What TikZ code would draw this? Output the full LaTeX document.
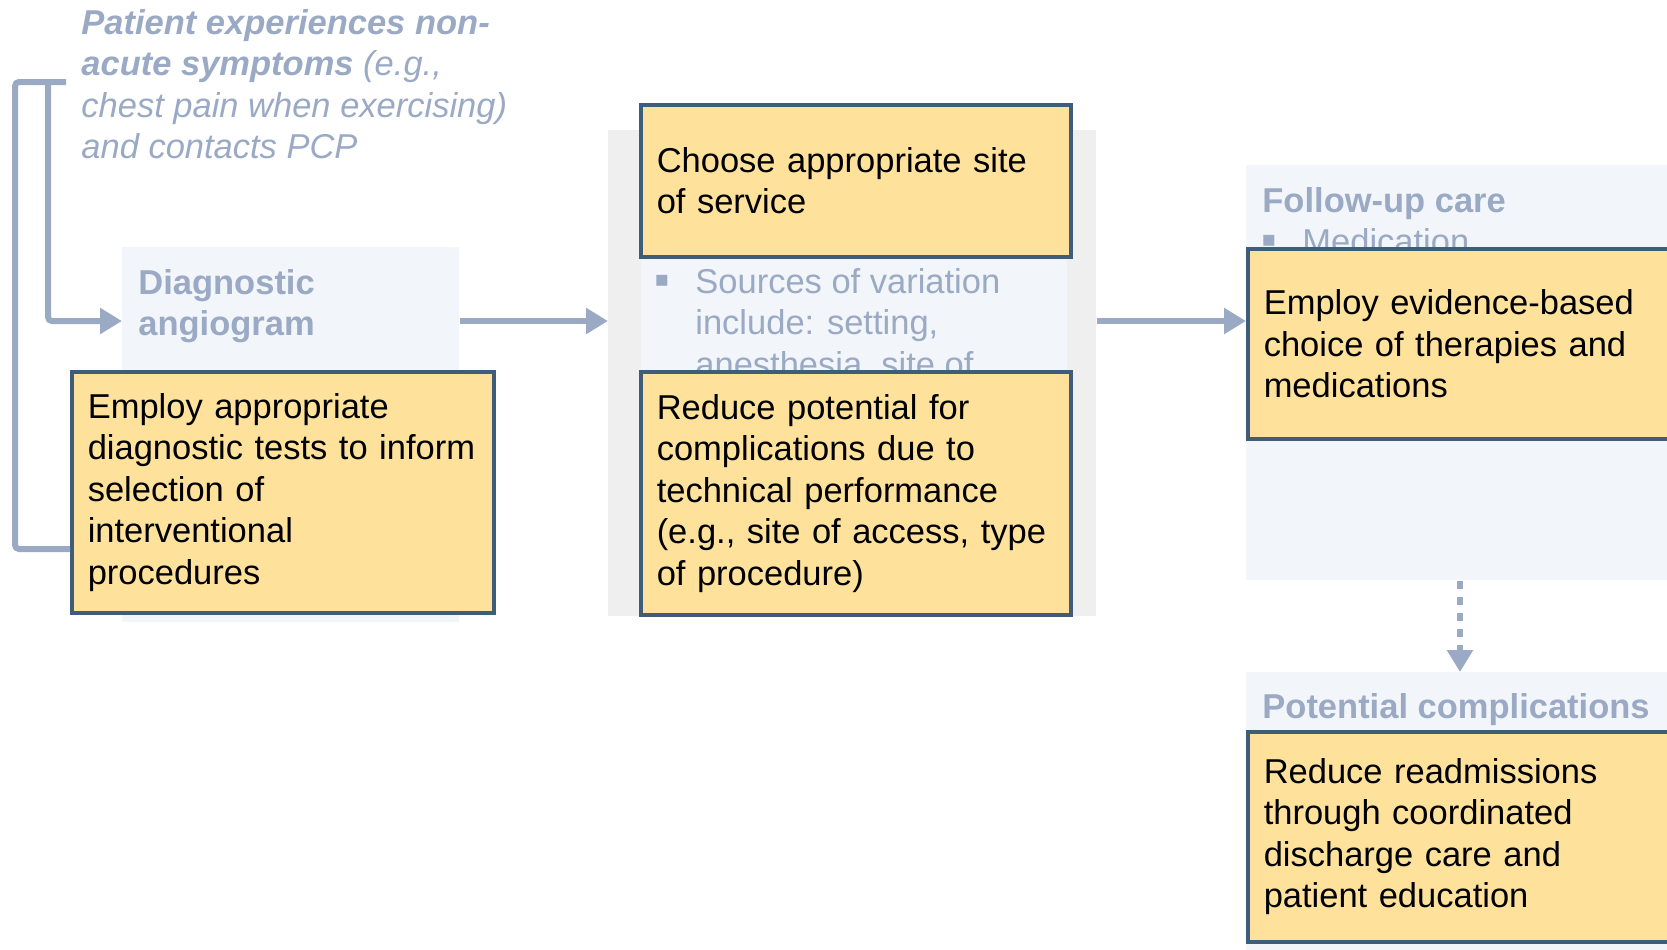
\documentclass[tikz,border=0pt]{standalone}
\usepackage{fontspec}
\setmainfont{Liberation Sans}
\usepackage{tikz}
\usetikzlibrary{positioning}
\usetikzlibrary{arrows.meta}
\definecolor{pathblue}{HTML}{9AA9C4}
\definecolor{panelblue}{HTML}{F2F5F9}
\definecolor{panelgrey}{HTML}{EFEFEF}
\definecolor{leverfill}{HTML}{FEE29B}
\definecolor{leverline}{HTML}{3F5C7A}
\newcommand{\pathfont}{\fontsize{17.25pt}{20.75pt}\selectfont}

\begin{document}
\begin{tikzpicture}[x=0.5pt,y=-0.5pt,
  panel/.style={fill=panelblue, anchor=north west, inner sep=0pt},
  faint/.style={text=pathblue, font=\pathfont, anchor=north west, inner sep=0pt, align=left},
  bulletmark/.style={text=pathblue, font=\fontsize{22pt}{24pt}\selectfont, inner sep=0pt},
  lever/.style={draw=leverline, line width=1.75pt, fill=leverfill, font=\pathfont, anchor=north west, inner xsep=8pt, inner ysep=0pt, align=left},
  flowline/.style={draw=pathblue, line width=3pt, -{Triangle[length=11pt,width=12.5pt]}}]
  \useasboundingbox (0,0) rectangle (1667,949);

  % background panels of the pathway steps
  \node[panel, minimum width=168.5pt, minimum height=187.5pt] (diagbg) at (122,247) {};
  \node[panel, fill=panelgrey, minimum width=244pt, minimum height=243pt] (midbg) at (608,130) {};
  \node[panel, minimum width=213pt, minimum height=250pt] (midpanel) at (641,110) {};
  \node[panel, minimum width=227pt, minimum height=207.5pt] (followbg) at (1246,165) {};
  \node[panel, minimum width=227pt, minimum height=144pt] (complbg) at (1246,672) {};

  % faint step texts
  \node[faint, font=\pathfont\itshape] (symptom) at (81,5)
    {\strut\textbf{Patient experiences non-}\\\textbf{acute symptoms} (e.g.,\\chest pain when exercising)\\and contacts PCP};
  \node[faint, font=\pathfont\bfseries] (diagtitle) at (138,265) {\strut Diagnostic\\angiogram};
  \node[bulletmark] (srcbullet) at (662,285) {▪};
  \node[faint] (sources) at (695,264) {\strut Sources of variation\\include: setting,\\anesthesia, site of};
  \node[faint, font=\pathfont\bfseries, anchor=base west] (followtitle) at (1262,212) {Follow-up care};
  \node[bulletmark] (medbullet) at (1269,245) {▪};
  \node[faint, anchor=base west] (medication) at (1302,253) {Medication};
  \node[faint, font=\pathfont\bfseries, anchor=base west] (compltitle) at (1262,718) {Potential complications};

  % levers
  \node[lever, text width=195pt, minimum width=211pt, minimum height=120.5pt] (diagtest) at (70,370)
    {Employ appropriate\\diagnostic tests to inform\\selection of\\interventional\\procedures};
  \node[lever, text width=199pt, minimum width=215pt, minimum height=76pt] (sitechoice) at (639,103)
    {Choose appropriate site\\of service};
  \node[lever, text width=199pt, minimum width=215pt, minimum height=121.5pt] (technique) at (639,370)
    {Reduce potential for\\complications due to\\technical performance\\(e.g., site of access, type\\of procedure)};
  \node[lever, text width=206pt, minimum width=222pt, minimum height=95pt] (therapies) at (1246,247)
    {Employ evidence-based\\choice of therapies and\\medications};
  \node[lever, text width=206pt, minimum width=222pt, minimum height=105pt] (readmit) at (1246,730)
    {Reduce readmissions\\through coordinated\\discharge care and\\patient education};

  % connectors
  \coordinate (flow) at (0,321);
  \coordinate (brstart) at (66,82);
  \coordinate (brouter) at (15,82);
  \coordinate (brinner) at (48,82);
  \coordinate (brlow) at (0,549);
  \coordinate (dropx) at (1460,0);
  \draw[draw=pathblue, line width=3pt, rounded corners=2pt] (brstart) -- (brouter) |- (diagtest.west |- brlow);
  \draw[flowline, rounded corners=2pt] (brinner) |- (diagbg.west |- flow);
  \draw[flowline] (diagbg.east |- flow) -- (midbg.west |- flow);
  \draw[flowline] (midbg.east |- flow) -- (followbg.west |- flow);
  \draw[flowline, dash pattern=on 4pt off 4pt] (followbg.south -| dropx) -- (complbg.north -| dropx);
\end{tikzpicture}
\end{document}
